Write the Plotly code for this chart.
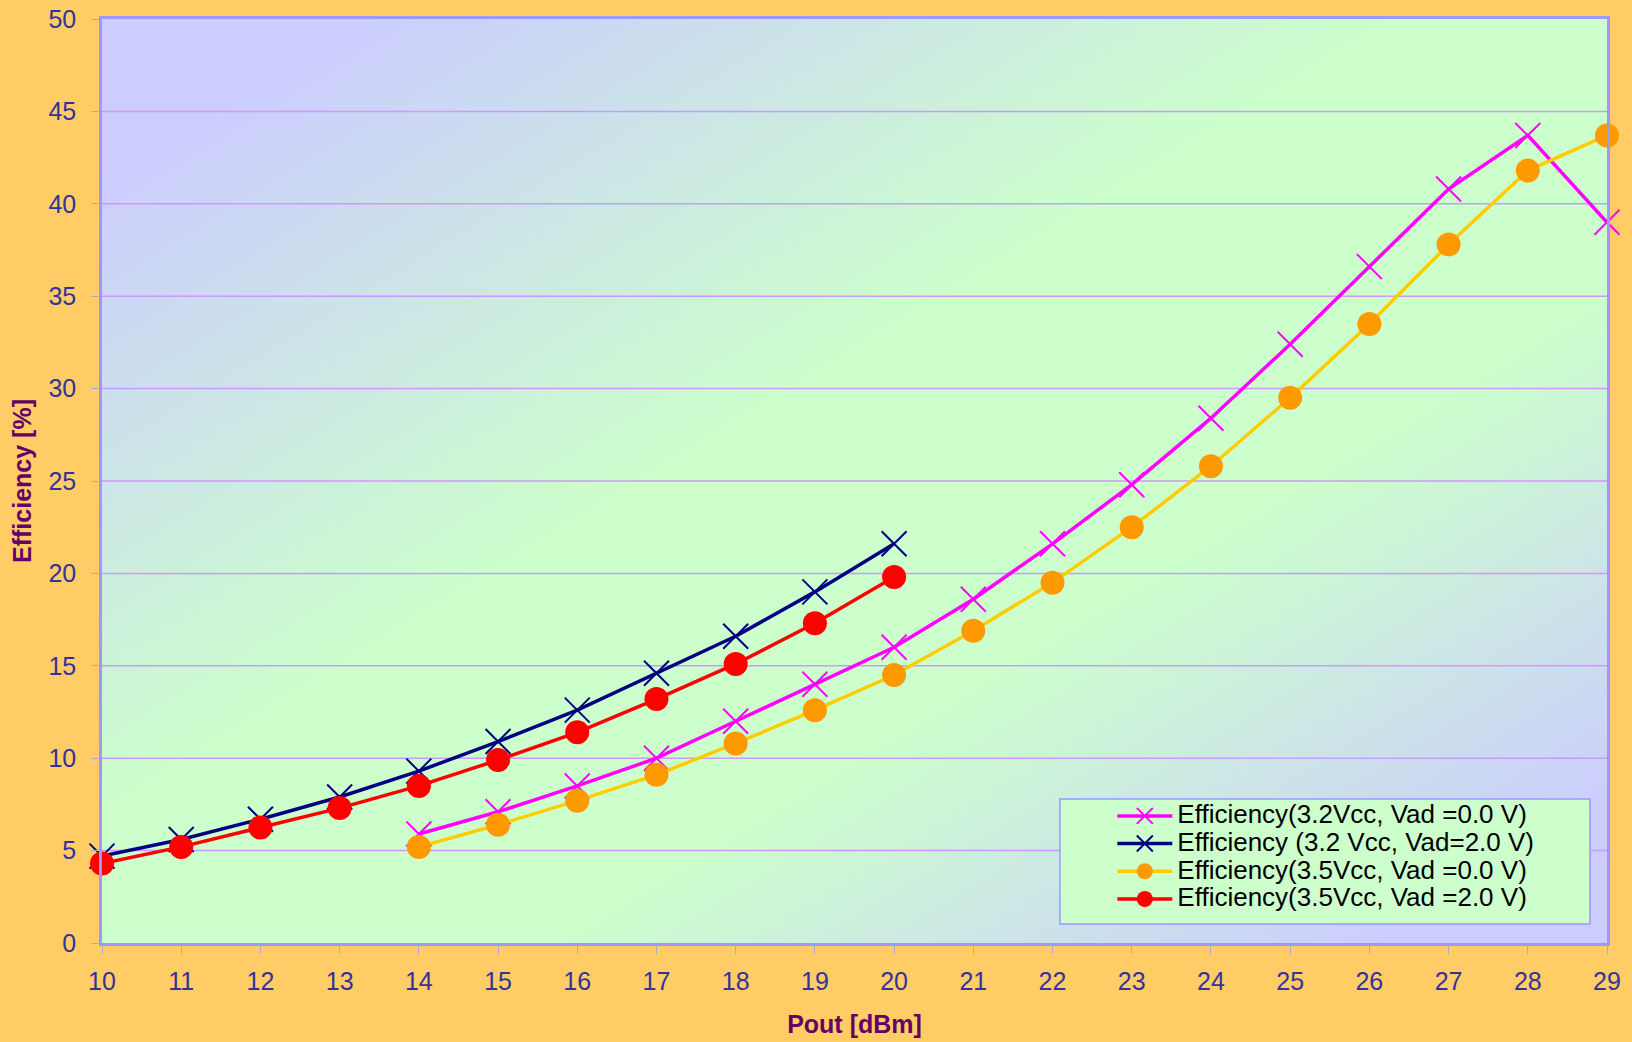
import plotly.graph_objects as go

# ---- data ----
pout_a = [14, 15, 16, 17, 18, 19, 20, 21, 22, 23, 24, 25, 26, 27, 28, 29]
pout_b = [10, 11, 12, 13, 14, 15, 16, 17, 18, 19, 20]

eff_32_vad0 = [5.9, 7.1, 8.5, 10.0, 12.0, 14.0, 16.0, 18.6, 21.6, 24.8, 28.4, 32.4, 36.6, 40.8, 43.7, 39.0]
eff_32_vad2 = [4.7, 5.6, 6.7, 7.9, 9.3, 10.9, 12.6, 14.6, 16.6, 19.0, 21.6]
eff_35_vad0 = [5.2, 6.4, 7.7, 9.1, 10.8, 12.6, 14.5, 16.9, 19.5, 22.5, 25.8, 29.5, 33.5, 37.8, 41.8, 43.7]
eff_35_vad2 = [4.3, 5.2, 6.25, 7.3, 8.5, 9.9, 11.4, 13.2, 15.1, 17.3, 19.8]

names = [
    "Efficiency(3.2Vcc, Vad =0.0 V)",
    "Efficiency (3.2 Vcc, Vad=2.0 V)",
    "Efficiency(3.5Vcc, Vad =0.0 V)",
    "Efficiency(3.5Vcc, Vad =2.0 V)",
]

x_range = [10, 29]
y_range = [0, 50]
y_ticks = [0, 5, 10, 15, 20, 25, 30, 35, 40, 45, 50]
x_ticks = list(range(10, 30))

FONT = "Liberation Sans, Arial, sans-serif"
TICKC = "#333399"
TITLEC = "#660066"
LAV = "#CCCCFF"
GREEN = "#CCFFCC"


def legend_label(s):
    return '<span style="font-size:26px">' + s + "</span>"


fig = go.Figure()

# background gradient of the plot area (corner values of a diagonal blend)
fig.add_trace(go.Heatmap(
    x=x_range, y=y_range, z=[[0.5, 1.0], [0.0, 0.5]],
    zsmooth="best", zmin=0, zmax=1,
    colorscale=[[0, LAV], [0.08, LAV], [0.43, GREEN], [0.65, GREEN],
                [0.93, LAV], [1, LAV]],
    showscale=False, hoverinfo="skip", showlegend=False,
))

# gridlines drawn over the background
gx, gy = [], []
for v in y_ticks[1:-1]:
    gx += [x_range[0], x_range[1], None]
    gy += [v, v, None]
fig.add_trace(go.Scatter(x=gx, y=gy, mode="lines",
                         line=dict(color="#CC99FF", width=1.5),
                         hoverinfo="skip", showlegend=False))

fig.add_trace(go.Scatter(
    x=pout_a, y=eff_32_vad0, name=legend_label(names[0]), mode="lines+markers",
    line=dict(color="#FF00FF", width=3.5),
    marker=dict(symbol="x-thin", size=25, line=dict(color="#FF00FF", width=2)),
    cliponaxis=False))
fig.add_trace(go.Scatter(
    x=pout_b, y=eff_32_vad2, name=legend_label(names[1]), mode="lines+markers",
    line=dict(color="#000080", width=3.5),
    marker=dict(symbol="x-thin", size=25, line=dict(color="#000080", width=2)),
    cliponaxis=False))
fig.add_trace(go.Scatter(
    x=pout_a, y=eff_35_vad0, name=legend_label(names[2]), mode="lines+markers",
    line=dict(color="#FFCC00", width=3.5),
    marker=dict(symbol="circle", size=24, color="#FF9900"),
    cliponaxis=False))
fig.add_trace(go.Scatter(
    x=pout_b, y=eff_35_vad2, name=legend_label(names[3]), mode="lines+markers",
    line=dict(color="#FF0000", width=3.5),
    marker=dict(symbol="circle", size=24, color="#FF0000"),
    cliponaxis=False))

# legend box
fig.add_shape(type="rect", xref="paper", yref="paper",
              x0=0.6365, x1=0.9887, y0=0.0206, y1=0.1558,
              fillcolor=GREEN, line=dict(color="#9999FF", width=1.5),
              layer="above")

fig.update_layout(
    width=1632, height=1042,
    margin=dict(l=102, r=25, t=19, b=99, autoexpand=False),
    paper_bgcolor="#FFCC66",
    plot_bgcolor=GREEN,
    font=dict(family=FONT, color=TICKC, size=25),
    xaxis=dict(
        range=x_range, tickvals=x_ticks, showgrid=False, zeroline=False,
        automargin=False,
        showline=True, mirror=True, linecolor="#9999FF", linewidth=2.5,
        ticks="outside", ticklen=8, tickcolor="#AAAACC", tickwidth=1,
        tickfont=dict(family=FONT, size=25, color=TICKC),
        ticklabelstandoff=6,
        title=dict(text="<b>Pout [dBm]</b>", standoff=22,
                   font=dict(family=FONT, size=25, color=TITLEC)),
    ),
    yaxis=dict(
        range=y_range, tickvals=y_ticks, showgrid=False, zeroline=False,
        automargin=False,
        showline=True, mirror=True, linecolor="#9999FF", linewidth=2.5,
        ticks="outside", ticklen=8, tickcolor="#AAAACC", tickwidth=1,
        tickfont=dict(family=FONT, size=25, color=TICKC),
        ticklabelstandoff=10,
        title=dict(text="<b>Efficiency [%]</b>", standoff=10,
                   font=dict(family=FONT, size=25, color=TITLEC)),
    ),
    legend=dict(
        x=0.6713, y=0.0925, xanchor="left", yanchor="middle",
        bgcolor="rgba(0,0,0,0)", borderwidth=0,
        font=dict(family=FONT, size=19, color="#000000"),
        itemwidth=55, tracegroupgap=0,
    ),
    showlegend=True,
)

fig.write_html("out.html", config={"displayModeBar": False},
               post_script="document.body.style.margin='0px';")
